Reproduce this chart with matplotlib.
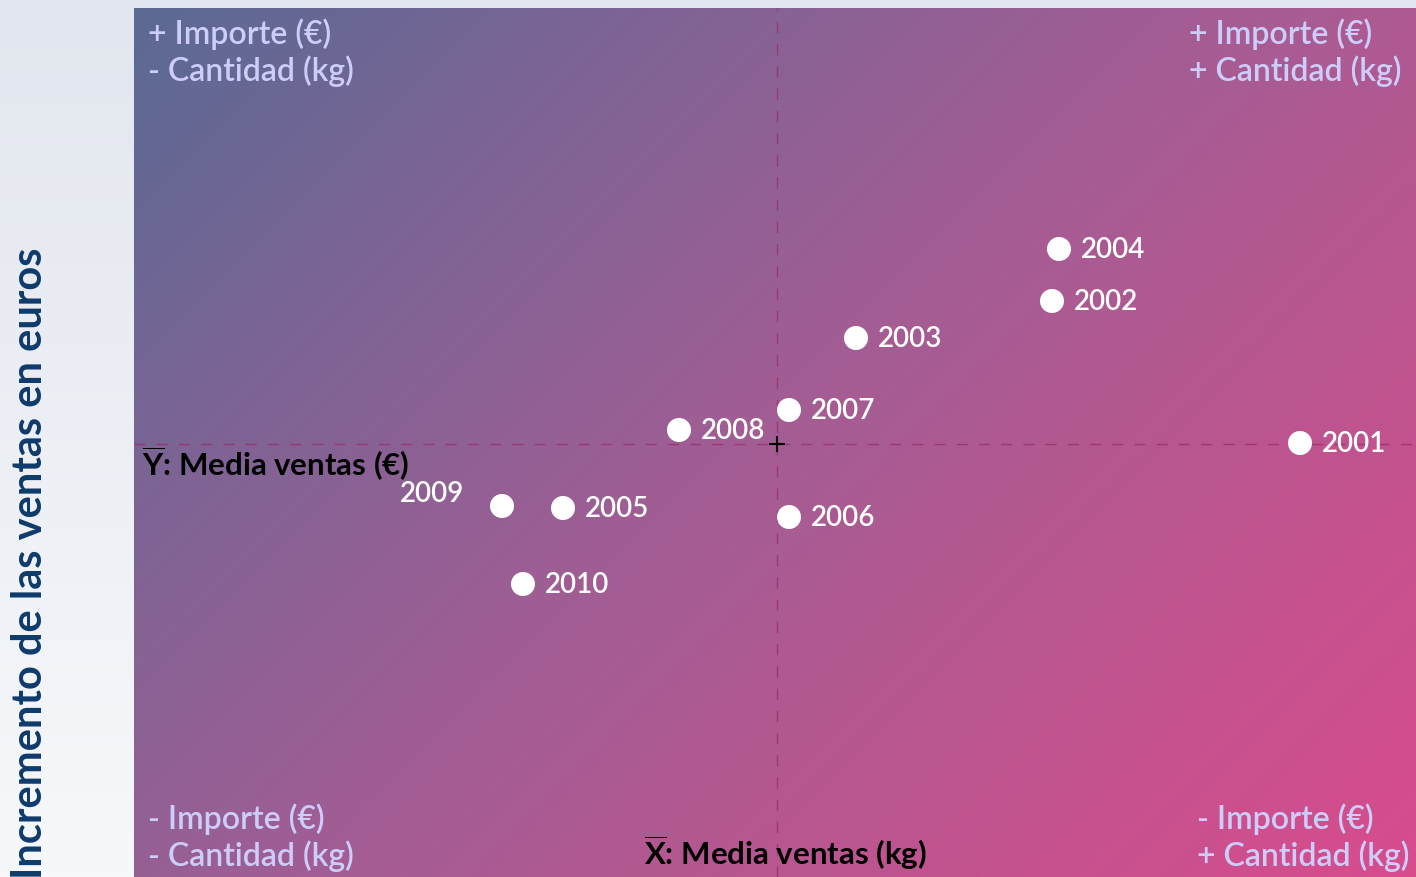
import matplotlib
matplotlib.use("Agg")
import matplotlib.pyplot as plt
import numpy as np
from matplotlib.colors import LinearSegmentedColormap

# Datos (desviaciones respecto a la media, unidades arbitrarias)
years = ["2001", "2002", "2003", "2004", "2005", "2006", "2007", "2008", "2009", "2010"]
kg_vals = [5.23, 2.75, 0.79, 2.82, -2.14, 0.12, 0.12, -0.98, -2.75, -2.54]
eur_vals = [0.01, 1.43, 1.06, 1.95, -0.64, -0.73, 0.34, 0.14, -0.62, -1.40]
mean_kg = 0.0
mean_eur = 0.0

quadrant_labels = {
    "tl": "+ Importe (€)\n- Cantidad (kg)",
    "tr": "+ Importe (€)\n+ Cantidad (kg)",
    "bl": "- Importe (€)\n- Cantidad (kg)",
    "br": "- Importe (€)\n+ Cantidad (kg)",
}

FONT = "Lato"
plt.rcParams["font.family"] = [FONT, "DejaVu Sans"]
plt.rcParams["mathtext.fontset"] = "custom"
plt.rcParams["mathtext.rm"] = FONT + ":bold"
plt.rcParams["mathtext.bf"] = FONT + ":bold"

W, H = 1416, 877
fig = plt.figure(figsize=(W / 100, H / 100), dpi=100)

# fondo de la figura (degradado claro)
bg = fig.add_axes([0, 0, 1, 1], zorder=-10)
grad = np.linspace(0, 1, 256).reshape(-1, 1)
bg_cmap = LinearSegmentedColormap.from_list("bg", ["#f6f8fb", "#e2e6ee"])
bg.imshow(grad, aspect="auto", cmap=bg_cmap, extent=[0, 1, 0, 1], origin="lower")
bg.axis("off")

left, top = 134 / W, 8 / H
ax = fig.add_axes([left, 0, 1 - left, 1 - top])

xmin, xmax = -6.43, 6.39
ymin, ymax = -4.33, 4.36

# degradado diagonal del area del grafico (arriba-izq azul, abajo-der rosa)
gx, gy = np.meshgrid(np.linspace(0, 1, 400), np.linspace(0, 1, 300))
t = (gx * 1282 + gy * 869) / (1282 + 869)
plot_cmap = LinearSegmentedColormap.from_list("plot", ["#5b6a95", "#a45d94", "#d84c8c"])
ax.imshow(t, cmap=plot_cmap, extent=[xmin, xmax, ymin, ymax], origin="upper",
          aspect="auto", zorder=0)

ax.axvline(mean_kg, color="#9a2f6a", lw=1, ls=(0, (8, 8)), alpha=0.8, zorder=1)
ax.axhline(mean_eur, color="#9a2f6a", lw=1, ls=(0, (8, 8)), alpha=0.8, zorder=1)
ax.plot([mean_kg], [mean_eur], marker="+", color="black", ms=12, mew=1.5, zorder=3)

ax.scatter(kg_vals, eur_vals, s=300, color="white", edgecolors="none", zorder=4)
for yr, x, y in zip(years, kg_vals, eur_vals):
    if yr == "2009":
        ax.annotate(yr, (x, y), xytext=(-27, 8.5), textcoords="offset points",
                    ha="right", va="center", color="white", fontsize=20,
                    fontweight="semibold", zorder=5)
    else:
        ax.annotate(yr, (x, y), xytext=(16, -1), textcoords="offset points",
                    ha="left", va="center", color="white", fontsize=20,
                    fontweight="semibold", zorder=5)

qc = "#cdcdfa"
qkw = dict(color=qc, fontsize=23, fontweight="semibold", linespacing=1.2,
           transform=ax.transAxes, zorder=5)
ax.text(0.011, 0.988, quadrant_labels["tl"], ha="left", va="top", **qkw)
ax.text(0.823, 0.988, quadrant_labels["tr"], ha="left", va="top", **qkw)
ax.text(0.011, 0.006, quadrant_labels["bl"], ha="left", va="bottom", **qkw)
ax.text(0.829, 0.006, quadrant_labels["br"], ha="left", va="bottom", **qkw)

ax.text(xmin + 0.08, mean_eur - 0.20, r"$\overline{\mathrm{Y}}$: Media ventas (€)",
        ha="left", va="center", color="black", fontsize=22.5, fontweight="bold", zorder=5)
ax.text(mean_kg - 1.33, ymin + 0.05, r"$\overline{\mathrm{X}}$: Media ventas (kg)",
        ha="left", va="bottom", color="black", fontsize=22.5, fontweight="bold", zorder=5)

ax.set_xlim(xmin, xmax)
ax.set_ylim(ymin, ymax)
ax.set_xticks([])
ax.set_yticks([])
for s in ax.spines.values():
    s.set_visible(False)

fig.text(30 / W, -0.002, "Incremento de las ventas en euros", rotation=90,
         ha="center", va="bottom", color="#0e3a6c", fontsize=30, fontweight="bold")

fig.savefig("out.png", dpi=100)
